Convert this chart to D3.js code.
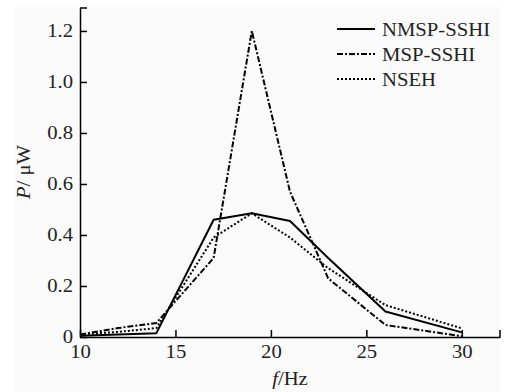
<!DOCTYPE html>
<html><head><meta charset="utf-8">
<script src="https://cdn.jsdelivr.net/npm/d3@7"></script>
<style>
html,body{margin:0;padding:0;background:#fff;}
svg{display:block;}
</style></head><body>
<svg id="c" width="511" height="392"></svg>
<script>
const freqs = [10, 12, 14, 17, 19, 21, 23, 26, 30];
const nmspSshi = [0.005, 0.01, 0.015, 0.46, 0.485, 0.455, 0.31, 0.10, 0.018];
const mspSshi  = [0.01, 0.035, 0.055, 0.31, 1.20, 0.57, 0.23, 0.047, 0.003];
const nseh     = [0.01, 0.02, 0.035, 0.39, 0.485, 0.39, 0.27, 0.125, 0.034];
const seriesNames = ["NMSP-SSHI", "MSP-SSHI", "NSEH"];
const xTicks = [10, 15, 20, 25, 30];
const yTicks = [0, 0.2, 0.4, 0.6, 0.8, 1.0, 1.2];
const xMax = 32, yMax = 1.29;

const FONT = "'Liberation Serif', 'Times New Roman', serif";
const svg = d3.select("#c");
svg.append("rect").attr("x",15).attr("y",7).attr("width",485).attr("height",385).attr("fill","#fafafa");

const x = d3.scaleLinear().domain([10, xMax]).range([80, 500]);
const y = d3.scaleLinear().domain([0, yMax]).range([337, 8]);

const styles = [
  {dash:null},
  {dash:"6,2,2,2"},
  {dash:"2,2"}
];
const data = [nmspSshi, mspSshi, nseh];

const line = d3.line().x((d,i)=>x(freqs[i])).y(d=>y(d));
data.forEach((s,k)=>{
  svg.append("path").datum(s).attr("d",line)
    .attr("fill","none").attr("stroke","#000").attr("stroke-width",2)
    .attr("stroke-linejoin","round")
    .attr("stroke-dasharray",styles[k].dash);
});

function styleText(sel){
  sel.style("font-family",FONT).style("font-size","18px").attr("fill","#222")
     .attr("transform", function(){ return null; });
}

// axes
const xAxis = d3.axisBottom(x).tickValues(xTicks).tickSizeInner(-7).tickSizeOuter(0).tickPadding(8).tickFormat(d3.format("d"));
const gx = svg.append("g").attr("transform",`translate(0,${y(0)})`).call(xAxis).attr("font-family",FONT);
gx.selectAll("text").style("font-family",FONT).style("font-size","18px").attr("fill","#222")
  .attr("transform","scale(1.15,1)").attr("x",function(){ return 0; });
gx.selectAll(".tick text").each(function(){ });
gx.selectAll("line").attr("stroke","#000").attr("stroke-width",1.5);
gx.select(".domain").attr("stroke","#000").attr("stroke-width",1.5);
gx.append("line").attr("x1",x(xMax)).attr("x2",x(xMax)).attr("y1",0).attr("y2",-7).attr("stroke","#000").attr("stroke-width",1.5);

const yAxis = d3.axisLeft(y).tickValues(yTicks).tickSizeInner(-7).tickSizeOuter(0).tickPadding(7)
  .tickFormat(d=> d===0 ? "0" : d3.format(".1f")(d));
const gy = svg.append("g").attr("transform",`translate(${x(10)},0)`).call(yAxis).attr("font-family",FONT);
gy.selectAll("text").style("font-family",FONT).style("font-size","18px").attr("fill","#222")
  .attr("x",-7/1.15).attr("transform","scale(1.15,1)");
gy.selectAll("line").attr("stroke","#000").attr("stroke-width",1.5);
gy.select(".domain").attr("stroke","#000").attr("stroke-width",1.5);
gy.append("line").attr("x1",0).attr("x2",7).attr("y1",y(yMax)).attr("y2",y(yMax)).attr("stroke","#000").attr("stroke-width",1.5);

// axis titles
const xt = svg.append("text").attr("transform","translate(290,385) scale(1.15,1)").attr("text-anchor","middle")
  .style("font-family",FONT).style("font-size","18px").attr("fill","#222");
xt.append("tspan").attr("font-style","italic").text("f");
xt.append("tspan").text("/Hz");
const yt = svg.append("text").attr("transform","translate(30,172) rotate(-90) scale(1.15,1)").attr("text-anchor","middle")
  .style("font-family",FONT).style("font-size","18px").attr("fill","#222");
yt.append("tspan").attr("font-style","italic").text("P");
yt.append("tspan").text("/ μW");

// legend
const ly = [29, 54, 79];
seriesNames.forEach((n,k)=>{
  svg.append("line").attr("x1",337).attr("x2",375).attr("y1",ly[k]).attr("y2",ly[k])
    .attr("stroke","#000").attr("stroke-width",2).attr("stroke-dasharray",styles[k].dash);
  svg.append("text").attr("transform",`translate(382,${ly[k]+6.5}) scale(1.15,1)`)
    .style("font-family",FONT).style("font-size","18px").attr("fill","#222").text(n);
});
</script></body></html>
